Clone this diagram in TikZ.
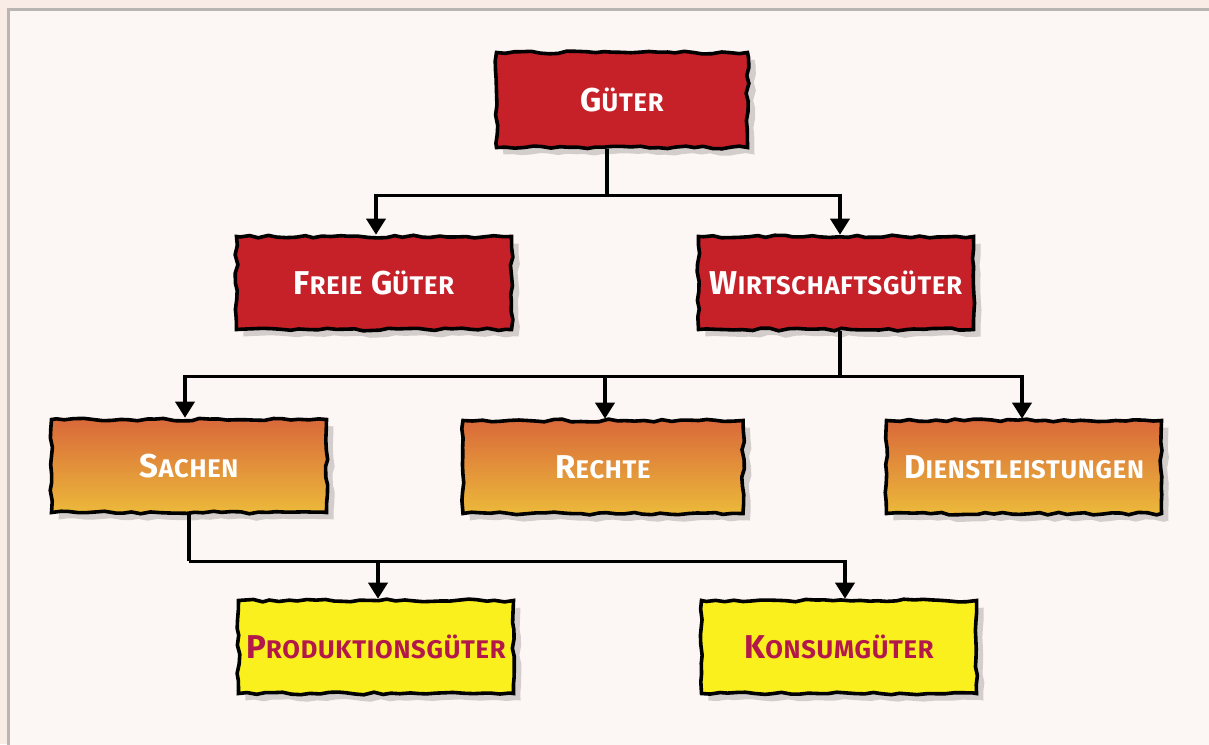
\documentclass[tikz,border=0pt]{standalone}
\usepackage{fontspec}
\setmainfont{Fira Sans}[LetterSpace=3]
\usetikzlibrary{positioning, arrows.meta, shadows, decorations.pathmorphing}

\definecolor{gueterred}{RGB}{198,32,40}
\definecolor{sacheTop}{RGB}{217,104,58}
\definecolor{sacheBot}{RGB}{236,186,58}
\definecolor{prodyellow}{RGB}{250,240,30}
\definecolor{prodtext}{RGB}{178,24,74}
\definecolor{paper}{RGB}{252,246,244}
\definecolor{paperout}{RGB}{249,236,230}
\definecolor{framegray}{RGB}{185,181,179}

% fake small caps: first letter, then smaller capitals
\newcommand\capit[2]{#1{\fontsize{25.5}{27}\selectfont #2}}

\begin{document}
\pgfmathsetseed{7}
\begin{tikzpicture}[
    x=1pt, y=-1pt,
    >={Triangle[width=19pt, length=16pt]},
    box/.style={rectangle, minimum width=275pt, minimum height=93pt,
                line width=3.6pt, draw=black, inner sep=0pt,
                font=\fontsize{33}{35}\selectfont\bfseries,
                decorate, decoration={random steps, segment length=9pt, amplitude=1.4pt},
                drop shadow={shadow xshift=7pt, shadow yshift=-7pt, opacity=.16, fill=black}},
    redbox/.style={box, fill=gueterred, text=white},
    orangebox/.style={box, top color=sacheTop, bottom color=sacheBot, text=white},
    yellowbox/.style={box, fill=prodyellow, text=prodtext},
    link/.style={line width=3.6pt, draw=black},
    arrow/.style={link, ->}
]

   % paper and frame
   \useasboundingbox (0,0) rectangle (1209,744);
   \fill[paperout] (0,0) rectangle (1209,744);
   \filldraw[fill=paper, draw=framegray, line width=3pt] (8,9) rectangle (1220,760);

   % Boxes
   \node[redbox, minimum width=251pt, minimum height=95pt] (gueter) at (622,100) {\capit{G}{ÜTER}};

   \node[redbox]    (freie)  at (374,283) {\capit{F}{REIE} \capit{G}{ÜTER}};
   \node[redbox]    (wirt)   at (836,283) {\capit{W}{IRTSCHAFTSGÜTER}};

   \node[orangebox] (sachen) at (189,466) {\capit{S}{ACHEN}};
   \node[orangebox, minimum width=280pt] (rechte) at (603,467) {\capit{R}{ECHTE}};
   \node[orangebox] (dienst) at (1024,467) {\capit{D}{IENSTLEISTUNGEN}};

   \node[yellowbox] (prod)   at (376,647) {\capit{P}{RODUKTIONSGÜTER}};
   \node[yellowbox] (konsum) at (839,647) {\capit{K}{ONSUMGÜTER}};

   % Güter -> Freie / Wirtschaftsgüter
   \draw[link] ([xshift=-15pt]gueter.south) -- ++(0,46) coordinate (bus1);
   \draw[arrow] (bus1) -| ([xshift=2pt]freie.north);
   \draw[arrow] (bus1) -| ([xshift=4pt]wirt.north);

   % Wirtschaftsgüter -> Sachen / Rechte / Dienstleistungen
   \draw[link] ([xshift=4pt]wirt.south) -- ++(0,45) coordinate (bus2);
   \draw[arrow] (bus2) -| ([xshift=-4pt]sachen.north);
   \draw[arrow] (bus2) -| ([xshift=2pt]rechte.north);
   \draw[arrow] (bus2) -| ([xshift=-2pt]dienst.north);

   % Sachen -> Produktions- / Konsumgüter
   \draw[link] (sachen.south) -- ++(0,47) coordinate (bus3);
   \draw[arrow] (bus3) -| ([xshift=2pt]prod.north);
   \draw[arrow] (bus3) -| ([xshift=6pt]konsum.north);

\end{tikzpicture}
\end{document}
